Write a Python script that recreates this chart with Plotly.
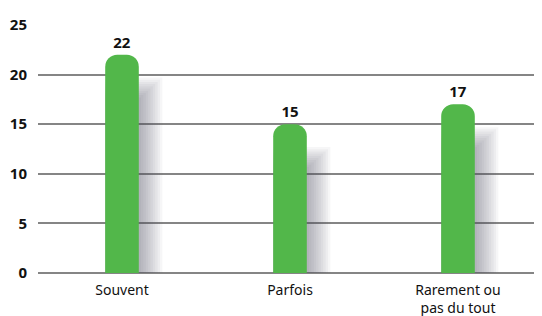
import plotly.graph_objects as go

categories = ["Souvent", "Parfois", "Rarement ou<br>pas du tout"]
values = [22, 15, 17]
y_ticks = [0, 5, 10, 15, 20, 25]

GREEN = "#52b74a"
fig = go.Figure()

# soft drop shadow built from the same values (several translucent layers)
for k in range(1, 11):
    ext = 0.014 * k
    fig.add_trace(go.Bar(
        x=categories, y=[v - 4.5 + 0.22 * k for v in values],
        width=0.2 + ext, offset=-0.1,
        marker=dict(color="rgba(70,70,95,0.05)", line=dict(width=0)),
        hoverinfo="skip", showlegend=False,
    ))

fig.add_trace(go.Bar(
    x=categories, y=values, width=0.2, offset=-0.1,
    marker=dict(color=GREEN, line=dict(width=0), cornerradius=12),
    text=[str(v) for v in values], textposition="outside",
    textfont=dict(family="Noto Sans", size=15, color="#111111", weight="bold"),
    cliponaxis=False, showlegend=False,
))

# page body has an 8px default margin; compensate so the plot lands in place
fig.update_layout(
    width=534, height=308,
    margin=dict(l=30, r=0, t=17, b=43),
    paper_bgcolor="white", plot_bgcolor="white",
    barmode="overlay",
    xaxis=dict(range=[-0.5, 2.5], showgrid=False, showline=False, ticks="",
               automargin=False, ticklabelstandoff=7,
               tickfont=dict(family="Noto Sans", size=14, color="#111111")),
    yaxis=dict(range=[0, 25], tickvals=y_ticks, showgrid=True, automargin=False,
               gridcolor="#858585", gridwidth=2, zeroline=True,
               zerolinecolor="#858585", zerolinewidth=2, showline=False,
               ticks="", ticklabelstandoff=10,
               tickfont=dict(family="Noto Sans", size=15, color="#111111", weight="bold")),
)

fig.write_html("out.html")
